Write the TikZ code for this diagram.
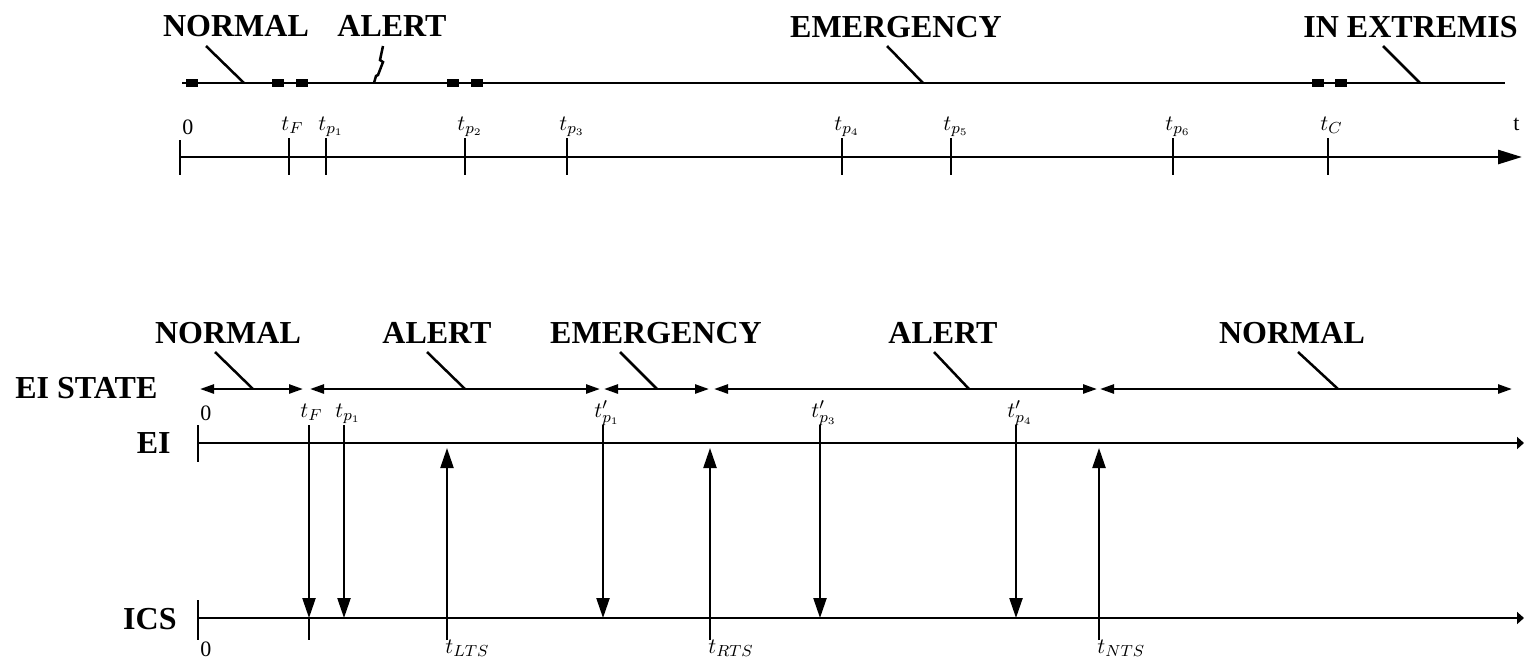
\documentclass[tikz,border=0pt]{standalone}
\usepackage{fontspec}
\setmainfont{Liberation Serif}
\usetikzlibrary{arrows.meta}
\begin{document}
\begin{tikzpicture}[x=0.5pt,y=-0.5pt,
  big/.style={font=\fontsize{16}{18}\selectfont\bfseries,inner sep=0pt,anchor=base},
  small/.style={font=\fontsize{11}{13}\selectfont,inner sep=0pt,anchor=base west},
  axisline/.style={line width=1.35pt},
  tickline/.style={line width=1.1pt},
  leader/.style={line width=1.25pt},
  marker/.style={fill=black,draw=none,minimum width=6pt,minimum height=4pt,inner sep=0pt},
  sig/.style={line width=1.15pt,-{Triangle[length=10pt,width=6.5pt]}},
  span/.style={line width=1.25pt,{Triangle[length=7pt,width=4.5pt]}-{Triangle[length=7pt,width=4.5pt]}},
]
\useasboundingbox (0,0) rectangle (1524,660);

% ---------------- upper diagram: state sequence over time ----------------
\node[big] (uN) at (236,36) {NORMAL};
\node[big] (uA) at (392,36) {ALERT};
\node[big] (uE) at (896,37) {EMERGENCY};
\node[big,anchor=base west] (uX) at (1303,37) {IN EXTREMIS};

\coordinate (us0) at (182,83);
\coordinate (us1) at (1505,83);
\draw[axisline] (us0) -- (us1);
\foreach \x [count=\i] in {192,278,302,453,477,1318,1341}
  \node[marker] (um\i) at (\x,83) {};

% leaders from the state names to the line
\coordinate (uNa) at (206,46);  \coordinate (uNb) at (244,83);
\draw[leader] (uNa) -- (uNb);
\coordinate (uAa) at (383,46);  \coordinate (uAb) at (374,83);
\draw[leader] (uAa) -- (380,60) -- (383,62) -- (378,75) -- (376,76) -- (uAb);
\coordinate (uEa) at (887,46);  \coordinate (uEb) at (923,83);
\draw[leader] (uEa) -- (uEb);
\coordinate (uXa) at (1383,46); \coordinate (uXb) at (1420,83);
\draw[leader] (uXa) -- (uXb);

% time axis
\coordinate (ta0) at (180,157);
\coordinate (ta1) at (1522,157);
\draw[axisline,-{Triangle[length=12pt,width=7pt]}] (ta0) -- (ta1);
\coordinate (ta0t) at (180,140); \coordinate (ta0b) at (180,175);
\draw[tickline] (ta0t) -- (ta0b);
\node[small] (tz) at (182,134) {0};
\node[small] (tt) at (1513,130) {t};
\foreach \x/\nm/\lab in {289/F/{$t_F$},326/p1/{$t_{p_1}$},465/p2/{$t_{p_2}$},
    567/p3/{$t_{p_3}$},842/p4/{$t_{p_4}$},951/p5/{$t_{p_5}$},
    1173/p6/{$t_{p_6}$},1328/C/{$t_C$}}{
  \coordinate (tk\nm a) at (\x,138);
  \coordinate (tk\nm b) at (\x,175);
  \draw[tickline] (tk\nm a) -- (tk\nm b);
  \node[small] (tl\nm) at (\x-8,130) {\lab};
}

% ---------------- lower diagram: EI state and EI/ICS signalling ----------------
\node[big] (lN1) at (228,343) {NORMAL};
\node[big] (lA1) at (437,343) {ALERT};
\node[big] (lE)  at (656,343) {EMERGENCY};
\node[big] (lA2) at (943,343) {ALERT};
\node[big] (lN2) at (1292,343) {NORMAL};
\node[big,anchor=base west] (lst) at (15,398) {EI STATE};

% state intervals
\foreach \a/\b [count=\i] in {200/303,310/600,604/709,714/1097,1100/1512}{
  \coordinate (sp\i a) at (\a,389);
  \coordinate (sp\i b) at (\b,389);
  \draw[span] (sp\i a) -- (sp\i b);
}
\foreach \a/\b/\c/\d [count=\i] in {215/352/253/389,427/352/465/389,620/352/657/389,
    934/352/969/389,1298/352/1338/389}{
  \coordinate (ld\i a) at (\a,\b);
  \coordinate (ld\i b) at (\c,\d);
  \draw[leader] (ld\i a) -- (ld\i b);
}

% EI and ICS axes
\node[big,anchor=base east] (lEI)  at (171,453) {EI};
\node[big,anchor=base east] (lICS) at (177,629) {ICS};
\coordinate (ei0) at (198,443);  \coordinate (ei1) at (1524,443);
\coordinate (ic0) at (198,618);  \coordinate (ic1) at (1524,618);
\draw[axisline,-{Triangle[length=3.5pt,width=6pt]}] (ei0) -- (ei1);
\draw[axisline,-{Triangle[length=3.5pt,width=6pt]}] (ic0) -- (ic1);
\coordinate (ei0t) at (198,425); \coordinate (ei0b) at (198,462);
\coordinate (ic0t) at (198,600); \coordinate (ic0b) at (198,640);
\draw[tickline] (ei0t) -- (ei0b);
\draw[tickline] (ic0t) -- (ic0b);
\node[small] (z1) at (200,420) {0};
\node[small] (z2) at (200,656) {0};

% EI -> ICS notifications
\foreach \x/\nm/\lab in {309/F/{$t_F$},344/p1/{$t_{p_1}$},603/q1/{$t'_{p_1}$},
    820/q3/{$t'_{p_3}$},1016/q4/{$t'_{p_4}$}}{
  \coordinate (dn\nm a) at (\x,425);
  \coordinate (dn\nm b) at (\x,618);
  \draw[sig] (dn\nm a) -- (dn\nm b);
  \node[small] (dl\nm) at (\x-9,417) {\lab};
}
\coordinate (dnFc) at (309,640);
\draw[tickline] (dnFb) -- (dnFc);

% ICS -> EI transition requests
\foreach \x/\nm/\lab in {447/L/{$t_{LTS}$},710/R/{$t_{RTS}$},1099/N/{$t_{NTS}$}}{
  \coordinate (up\nm a) at (\x,640);
  \coordinate (up\nm b) at (\x,448);
  \draw[sig] (up\nm a) -- (up\nm b);
  \node[small] (ul\nm) at (\x-2,653) {\lab};
}
\end{tikzpicture}
\end{document}
